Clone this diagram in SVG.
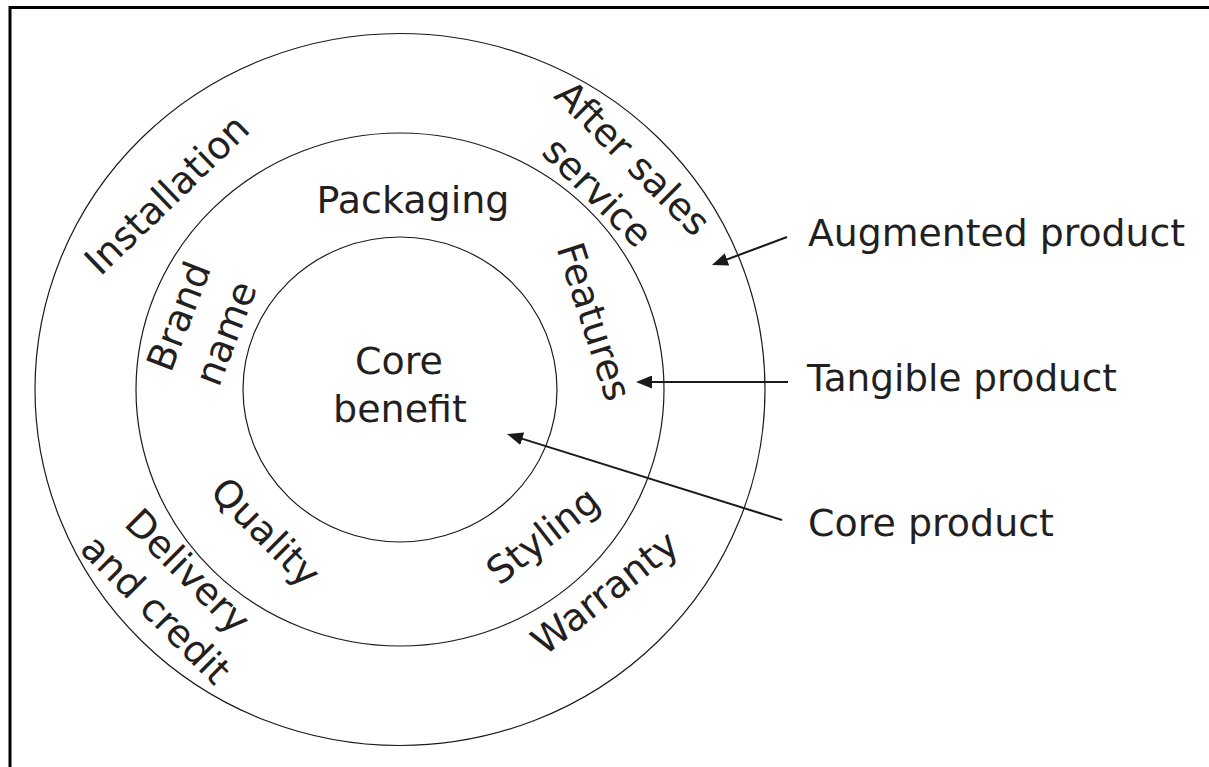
<svg xmlns="http://www.w3.org/2000/svg" width="1209" height="767" viewBox="0 0 1209 767">
<style>
.ring{fill:none;stroke:#1a1a1a;stroke-width:1.2}
.lbl{font-family:"DejaVu Sans","Liberation Sans",sans-serif;font-size:38px;fill:#231f20;text-anchor:middle}
.side{font-family:"DejaVu Sans","Liberation Sans",sans-serif;font-size:38px;fill:#231f20}
.conn{fill:none;stroke:#1a1a1a;stroke-width:2}
</style>
<defs>
<marker id="ah" viewBox="0 0 16 13" refX="8" refY="6.5" markerWidth="16" markerHeight="13" markerUnits="userSpaceOnUse" orient="auto">
<path d="M0,0 L16,6.5 L0,13 Z" fill="#1a1a1a"/>
</marker>
</defs>
<rect width="1209" height="767" fill="#ffffff"/>
<path d="M10,767 V7.5 H1209" fill="none" stroke="#000" stroke-width="3"/>
<g id="rings">
<ellipse id="augmented-ring" class="ring" cx="400" cy="389.5" rx="365" ry="356"/>
<ellipse id="tangible-ring" class="ring" cx="400" cy="389.5" rx="264" ry="256.5"/>
<ellipse id="core-ring" class="ring" cx="400" cy="389.5" rx="157" ry="152.5"/>
</g>
<g id="core-benefit">
<text class="lbl" x="399" y="374">Core</text>
<text class="lbl" x="400" y="422">benefit</text>
</g>
<g id="packaging"><text class="lbl" x="413" y="213">Packaging</text></g>
<g id="installation"><text class="lbl" transform="translate(176,204) rotate(-44)">Installation</text></g>
<g id="after-sales-service">
<text class="lbl" transform="translate(623.5,167.5) rotate(45)">After sales</text>
<text class="lbl" transform="translate(588.5,201.5) rotate(45)">service</text>
</g>
<g id="features"><text class="lbl" transform="translate(581.6,325.7) rotate(72)">Features</text></g>
<g id="brand-name">
<text class="lbl" transform="translate(191,321) rotate(-69)">Brand</text>
<text class="lbl" transform="translate(238,338) rotate(-69)">name</text>
</g>
<g id="quality"><text class="lbl" transform="translate(256.5,541.5) rotate(45)">Quality</text></g>
<g id="delivery-credit">
<text class="lbl" transform="translate(178.5,580.5) rotate(45)">Delivery</text>
<text class="lbl" transform="translate(146.5,618.5) rotate(45)">and credit</text>
</g>
<g id="styling"><text class="lbl" transform="translate(551,546) rotate(-38)">Styling</text></g>
<g id="warranty"><text class="lbl" transform="translate(613,603) rotate(-38)">Warranty</text></g>
<g id="augmented-product"><text class="side" x="808" y="246" textLength="377" lengthAdjust="spacingAndGlyphs">Augmented product</text></g>
<g id="tangible-product"><text class="side" x="807" y="391" textLength="310" lengthAdjust="spacingAndGlyphs">Tangible product</text></g>
<g id="core-product"><text class="side" x="808" y="536" textLength="246" lengthAdjust="spacingAndGlyphs">Core product</text></g>
<g id="connectors">
<line class="conn" x1="787" y1="237" x2="719.5" y2="262.2" marker-end="url(#ah)"/>
<line class="conn" x1="788" y1="382" x2="644" y2="382" marker-end="url(#ah)"/>
<line class="conn" x1="782" y1="520" x2="514.6" y2="436.4" marker-end="url(#ah)"/>
</g>
</svg>
